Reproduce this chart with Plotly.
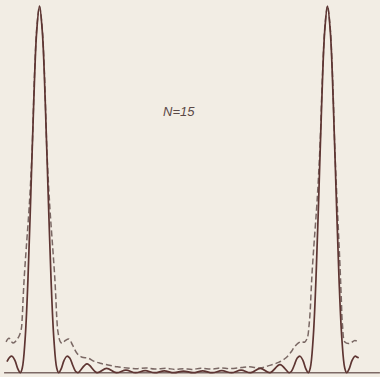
import plotly.graph_objects as go

# Solid curve (ideal N=15 pattern), x in units of the peak spacing, y relative intensity
solid_x = [-0.113, -0.104, -0.095, -0.085, -0.076, -0.0667,
           -0.06, -0.05, -0.04, -0.03, -0.02, -0.01, 0.0, 0.01, 0.02, 0.03, 0.04, 0.05, 0.06,
           0.0667, 0.076, 0.085, 0.095, 0.105, 0.115, 0.125, 0.1333,
           0.165, 0.2, 0.233, 0.2667, 0.3, 0.3333, 0.3667, 0.4, 0.4333, 0.4667, 0.5,
           0.5333, 0.5667, 0.6, 0.6333, 0.6667, 0.7, 0.7333, 0.7667, 0.8, 0.835, 0.8667,
           0.875, 0.885, 0.895, 0.905, 0.915, 0.924, 0.9333,
           0.94, 0.95, 0.96, 0.97, 0.98, 0.99, 1.0, 1.01, 1.02, 1.03, 1.04, 1.05, 1.06,
           1.0667, 1.076, 1.085, 1.095, 1.104, 1.108]
solid_y = [0.030, 0.042, 0.045, 0.033, 0.012, 0.0,
           0.012, 0.091, 0.256, 0.490, 0.738, 0.928, 1.0, 0.928, 0.738, 0.490, 0.256, 0.091, 0.012,
           0.0, 0.012, 0.033, 0.045, 0.040, 0.021, 0.004, 0.0,
           0.024, 0.0, 0.012, 0.0, 0.007, 0.0, 0.0055, 0.0, 0.0048, 0.0, 0.0045,
           0.0, 0.0048, 0.0, 0.0055, 0.0, 0.007, 0.0, 0.012, 0.0, 0.022, 0.0,
           0.004, 0.021, 0.040, 0.045, 0.033, 0.012, 0.0,
           0.012, 0.091, 0.256, 0.490, 0.738, 0.928, 1.0, 0.928, 0.738, 0.490, 0.256, 0.091, 0.012,
           0.0, 0.012, 0.033, 0.045, 0.042, 0.040]

# Dashed curve (broadened pattern)
dash_x = [-0.116, -0.106, -0.092, -0.075, -0.064, -0.060, -0.057, -0.053, -0.046, -0.036, -0.026, -0.017, -0.008,
          0.0, 0.008, 0.017, 0.026, 0.036, 0.046, 0.053, 0.057, 0.060, 0.064, 0.072, 0.079, 0.090, 0.102,
          0.115, 0.130, 0.148, 0.168, 0.190, 0.210, 0.238, 0.270, 0.304, 0.34, 0.37, 0.40, 0.44,
          0.47, 0.50, 0.53, 0.56, 0.60, 0.63, 0.66, 0.70, 0.73, 0.766, 0.80, 0.83, 0.855, 0.872,
          0.885, 0.897, 0.910, 0.920, 0.930, 0.936, 0.940, 0.943, 0.947, 0.954, 0.964, 0.974, 0.983, 0.992,
          1.0, 1.008, 1.017, 1.026, 1.036, 1.044, 1.048, 1.052, 1.061, 1.078, 1.095, 1.109]
dash_y = [0.084, 0.094, 0.081, 0.094, 0.116, 0.150, 0.200, 0.260, 0.340, 0.450, 0.600, 0.820, 0.955,
          1.0, 0.955, 0.820, 0.600, 0.450, 0.340, 0.260, 0.200, 0.150, 0.112, 0.085, 0.080, 0.088, 0.092,
          0.075, 0.053, 0.042, 0.040, 0.031, 0.026, 0.021, 0.016, 0.013, 0.011, 0.013, 0.010, 0.012,
          0.009, 0.011, 0.009, 0.012, 0.010, 0.013, 0.011, 0.014, 0.016, 0.013, 0.020, 0.028, 0.040, 0.055,
          0.070, 0.080, 0.085, 0.083, 0.095, 0.130, 0.170, 0.220, 0.280, 0.360, 0.470, 0.620, 0.820, 0.955,
          1.0, 0.955, 0.820, 0.600, 0.420, 0.280, 0.200, 0.130, 0.083, 0.080, 0.088, 0.083]

label_text = "N=15"

fig = go.Figure()
fig.add_trace(go.Scatter(x=dash_x, y=dash_y, mode="lines",
                         line=dict(color="#7a6864", width=1.5, dash="6px,3px", shape="spline"),
                         hoverinfo="skip"))
fig.add_trace(go.Scatter(x=solid_x, y=solid_y, mode="lines",
                         line=dict(color="#5e3532", width=1.7, shape="spline"),
                         hoverinfo="skip"))

fig.add_shape(type="line", x0=-0.123, x1=1.182, y0=0, y1=0,
              line=dict(color="#7d6a66", width=1.5), layer="below")

fig.add_annotation(x=179 / 380, y=1 - 102 / 377, xref="paper", yref="paper",
                   text="<i>" + label_text + "</i>", showarrow=False,
                   font=dict(family="Liberation Sans", size=13, color="#5a4846"))

fig.update_layout(
    width=380, height=377,
    margin=dict(l=0, r=0, t=0, b=0),
    paper_bgcolor="#f2ede4", plot_bgcolor="#f2ede4",
    showlegend=False,
    xaxis=dict(range=[-0.13715, 1.18229], visible=False, fixedrange=True),
    yaxis=dict(range=[-0.01173, 1.01692], visible=False, fixedrange=True),
)

fig.write_html(
    "out.html",
    config={"displayModeBar": False},
    post_script="document.body.style.margin='0';document.body.style.background='#f2ede4';document.body.style.overflow='hidden';",
)
